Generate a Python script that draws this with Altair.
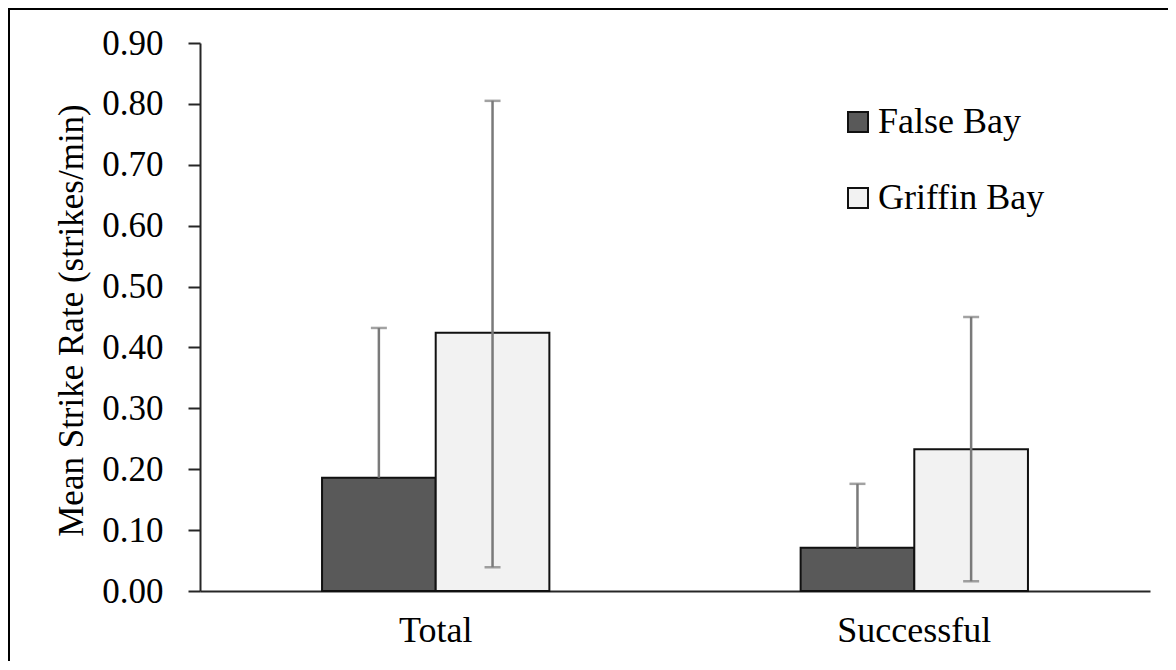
import altair as alt
import pandas as pd

categories = ["Total", "Successful"]
sites = ["False Bay", "Griffin Bay"]
false_bay_mean = [0.186, 0.071]
griffin_bay_mean = [0.424, 0.233]
false_bay_err_plus = [0.246, 0.105]
false_bay_err_minus = [0.0, 0.0]
griffin_bay_err_plus = [0.381, 0.217]
griffin_bay_err_minus = [0.385, 0.217]
y_ticks = [0.0, 0.1, 0.2, 0.3, 0.4, 0.5, 0.6, 0.7, 0.8, 0.9]

rows = []
for i, c in enumerate(categories):
    rows.append({"category": c, "site": sites[0], "mean": false_bay_mean[i],
                 "upper": false_bay_mean[i] + false_bay_err_plus[i],
                 "lower": false_bay_mean[i] - false_bay_err_minus[i],
                 "has_lower": false_bay_err_minus[i] > 0})
    rows.append({"category": c, "site": sites[1], "mean": griffin_bay_mean[i],
                 "upper": griffin_bay_mean[i] + griffin_bay_err_plus[i],
                 "lower": griffin_bay_mean[i] - griffin_bay_err_minus[i],
                 "has_lower": griffin_bay_err_minus[i] > 0})
df = pd.DataFrame(rows)

FONT = "Liberation Serif"

x_enc = alt.X("category:N", sort=categories,
              scale=alt.Scale(paddingInner=0.525, paddingOuter=0.255),
              axis=alt.Axis(title=None, labelAngle=0, ticks=False, labelPadding=22,
                            labelFont=FONT, labelFontSize=36, labelColor="#000000",
                            domainColor="#262626", domainWidth=2))
xo_enc = alt.XOffset("site:N", sort=sites, scale=alt.Scale(paddingInner=0, paddingOuter=0))
y_scale = alt.Scale(domain=[0, 0.9], nice=False)

base = alt.Chart(df)

bars = base.mark_bar(stroke="#111111", strokeWidth=2).encode(
    x=x_enc,
    xOffset=xo_enc,
    y=alt.Y("mean:Q", scale=y_scale,
            axis=alt.Axis(title="Mean Strike Rate (strikes/min)", values=y_ticks, format=".2f",
                          grid=False, tickSize=12, tickWidth=2, tickColor="#262626",
                          domainColor="#262626", domainWidth=2, labelPadding=25,
                          labelFont=FONT, labelFontSize=35, labelColor="#000000",
                          titleFont=FONT, titleFontSize=35, titleFontWeight="normal",
                          titleColor="#000000", titleX=-118, titleY=277,
                          titleAngle=270, titleAlign="center", titleBaseline="alphabetic")),
    color=alt.Color("site:N", sort=sites,
                    scale=alt.Scale(domain=sites, range=["#595959", "#f2f2f2"]),
                    legend=alt.Legend(title=None, orient="none", legendX=640, legendY=61,
                                      symbolType="square", symbolSize=400,
                                      symbolStrokeColor="#111111", symbolStrokeWidth=2,
                                      labelFont=FONT, labelFontSize=36, labelColor="#000000",
                                      labelLimit=400, labelOffset=2, rowPadding=40, padding=0)),
)

err_lines = base.mark_rule(color="#7a7a7a", strokeWidth=2.5).encode(
    x=alt.X("category:N", sort=categories), xOffset=alt.XOffset("site:N", sort=sites),
    y=alt.Y("lower:Q", scale=y_scale), y2="upper:Q",
)
cap_top = base.mark_tick(color="#7a7a7a", thickness=2.5, size=16, orient="horizontal").encode(
    x=alt.X("category:N", sort=categories), xOffset=alt.XOffset("site:N", sort=sites),
    y=alt.Y("upper:Q", scale=y_scale),
)
cap_bot = base.transform_filter("datum.has_lower").mark_tick(
    color="#7a7a7a", thickness=2.5, size=16, orient="horizontal").encode(
    x=alt.X("category:N", sort=categories), xOffset=alt.XOffset("site:N", sort=sites),
    y=alt.Y("lower:Q", scale=y_scale),
)

frame_data = alt.Chart(pd.DataFrame({"f": [0]}))
frame_top = frame_data.mark_rule(color="#000000", strokeWidth=2).encode(
    x=alt.value(-192), x2=alt.value(968), y=alt.value(-34))
frame_left = frame_data.mark_rule(color="#000000", strokeWidth=2).encode(
    x=alt.value(-191), y=alt.value(-35), y2=alt.value(620))

chart = alt.layer(bars, err_lines, cap_top, cap_bot, frame_top, frame_left).properties(
    width=950, height=548,
    background="#ffffff",
    autosize=alt.AutoSizeParams(type="none"),
    padding={"left": 192, "top": 35, "right": 18, "bottom": 70},
).configure_view(stroke=None)

chart.save("out.html", embed_options={"renderer": "svg", "actions": False})
